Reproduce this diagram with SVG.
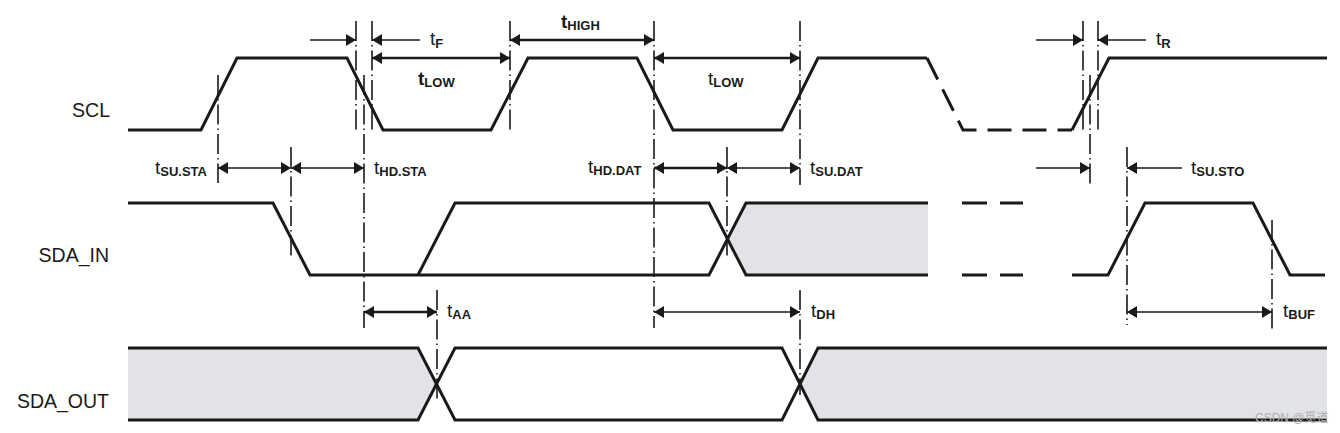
<svg xmlns="http://www.w3.org/2000/svg" width="1340" height="433" viewBox="0 0 1340 433">
<style>
.sig{fill:none;stroke:#1a1a1a;stroke-width:3;stroke-linejoin:miter}
.dsh{fill:none;stroke:#1a1a1a;stroke-width:3;stroke-dasharray:24 11}
.gray{fill:#e2e3e7;stroke:none}
.vl{stroke:#1a1a1a;stroke-width:1.6;stroke-dasharray:20 4 1.5 4;fill:none}
.ar{stroke:#1a1a1a;stroke-width:1.6;fill:none;marker-end:url(#ah)}
.ar2{stroke:#1a1a1a;stroke-width:1.6;fill:none;marker-start:url(#ah);marker-end:url(#ah)}
.ar2b{stroke:#1a1a1a;stroke-width:2.6;fill:none;marker-start:url(#ah);marker-end:url(#ah)}
.lbl{font-family:"Liberation Sans",Arial,sans-serif;font-size:19.5px;fill:#1a1a1a}
.t{font-family:"Liberation Sans",Arial,sans-serif;font-size:19px;fill:#1a1a1a}
.tb{font-family:"Liberation Sans",Arial,sans-serif;font-size:19px;font-weight:bold;fill:#1a1a1a}
.sub{font-size:13px;font-weight:bold}
.wm{font-family:"Liberation Sans","Noto Sans CJK SC",sans-serif;font-size:12px;fill:#b0b0b0}
</style>
<defs>
<marker id="ah" markerUnits="userSpaceOnUse" markerWidth="10" markerHeight="12" refX="10" refY="6" orient="auto-start-reverse" viewBox="0 0 10 12">
<path d="M0,0 L10,6 L0,12 z" fill="#1a1a1a"/>
</marker>
</defs>
<rect width="1340" height="433" fill="#ffffff"/>

<g id="shading">
<polygon class="gray" points="727.5,239 746,203 928,203 928,275 746,275"/>
<polygon class="gray" points="128,348 418,348 436.5,384 418,420 128,420"/>
<polygon class="gray" points="800,384 818,348 1327,348 1327,420 818,420"/>
</g>

<g id="guides">
<line class="vl" x1="218" y1="75" x2="218" y2="183"/>
<line class="vl" x1="356" y1="21" x2="356" y2="130"/>
<line class="vl" x1="372" y1="21" x2="372" y2="130"/>
<line class="vl" x1="364" y1="75" x2="364" y2="328"/>
<line class="vl" x1="291" y1="147" x2="291" y2="257"/>
<line class="vl" x1="510" y1="21" x2="510" y2="133"/>
<line class="vl" x1="654" y1="21" x2="654" y2="328"/>
<line class="vl" x1="800" y1="21" x2="800" y2="185"/>
<line class="vl" x1="800" y1="290" x2="800" y2="395"/>
<line class="vl" x1="727" y1="147" x2="727" y2="257"/>
<line class="vl" x1="437" y1="290" x2="437" y2="402"/>
<line class="vl" x1="1083" y1="21" x2="1083" y2="130"/>
<line class="vl" x1="1098" y1="21" x2="1098" y2="130"/>
<line class="vl" x1="1090" y1="75" x2="1090" y2="185"/>
<line class="vl" x1="1127" y1="147" x2="1127" y2="325"/>
<line class="vl" x1="1272" y1="220" x2="1272" y2="330"/>
</g>

<g id="SCL">
<text class="lbl" x="110" y="117" text-anchor="end">SCL</text>
<path class="sig" d="M128,130 H201 L237,58 H347 L383,130 H491 L528,58 H637 L673,130 H782 L818,58 H927"/>
<path class="dsh" d="M927,58 L963,130 H1072"/>
<path class="sig" d="M1072,130 L1109,58 H1327"/>
</g>

<g id="SDA_IN">
<text class="lbl" x="109" y="262" text-anchor="end">SDA_IN</text>
<path class="sig" d="M128,203 H273 L310,275 H709 L746,203 H928"/>
<path class="sig" d="M418,275 L455,203 H709 L746,275 H928"/>
<path class="sig" d="M962,203 H987 M1000,203 H1023 M962,275 H987 M1000,275 H1023"/>
<path class="sig" d="M1072,275 H1108 L1145,203 H1253 L1290,275 H1325"/>
</g>

<g id="SDA_OUT">
<text class="lbl" x="109" y="408" text-anchor="end">SDA_OUT</text>
<path class="sig" d="M128,348 H418 L455,420 H782 L818,348 H1327"/>
<path class="sig" d="M128,420 H418 L455,348 H782 L818,420 H1327"/>
</g>

<g id="connectors">
<line class="ar" x1="310" y1="40" x2="356" y2="40"/>
<line class="ar" x1="420" y1="40" x2="372" y2="40"/>
<line class="ar2b" x1="372" y1="58" x2="510" y2="58"/>
<line class="ar2b" x1="510" y1="40" x2="654" y2="40"/>
<line class="ar2b" x1="654" y1="58" x2="800" y2="58"/>
<line class="ar" x1="1036" y1="40" x2="1083" y2="40"/>
<line class="ar" x1="1146" y1="40" x2="1098" y2="40"/>
<line class="ar2" x1="218" y1="168" x2="291" y2="168"/>
<line class="ar2" x1="291" y1="168" x2="364" y2="168"/>
<line class="ar2b" x1="654" y1="168" x2="727" y2="168"/>
<line class="ar2" x1="727" y1="168" x2="800" y2="168"/>
<line class="ar" x1="1036" y1="168" x2="1090" y2="168"/>
<line class="ar" x1="1182" y1="168" x2="1127" y2="168"/>
<line class="ar2b" x1="364" y1="312" x2="437" y2="312"/>
<line class="ar2" x1="654" y1="312" x2="800" y2="312"/>
<line class="ar2" x1="1127" y1="312" x2="1272" y2="312"/>
</g>

<g id="labels">
<text class="t" x="430" y="45">t<tspan class="sub" dy="3">F</tspan></text>
<text class="tb" x="418" y="85">t<tspan class="sub" dy="2">LOW</tspan></text>
<text class="tb" x="561" y="28">t<tspan class="sub" dy="2">HIGH</tspan></text>
<text class="t" x="708" y="85">t<tspan class="sub" dy="2">LOW</tspan></text>
<text class="t" x="1156" y="45">t<tspan class="sub" dy="3">R</tspan></text>
<text class="t" x="155" y="174">t<tspan class="sub" dy="2">SU.STA</tspan></text>
<text class="t" x="374" y="174">t<tspan class="sub" dy="2">HD.STA</tspan></text>
<text class="t" x="588" y="173">t<tspan class="sub" dy="2">HD.DAT</tspan></text>
<text class="t" x="810" y="174">t<tspan class="sub" dy="2">SU.DAT</tspan></text>
<text class="t" x="1191" y="174">t<tspan class="sub" dy="2">SU.STO</tspan></text>
<text class="t" x="447" y="317">t<tspan class="sub" dy="2">AA</tspan></text>
<text class="t" x="811" y="317">t<tspan class="sub" dy="2">DH</tspan></text>
<text class="t" x="1283" y="317">t<tspan class="sub" dy="2">BUF</tspan></text>
</g>

<text class="wm" x="1255" y="422">CSDN @觅道</text>
</svg>
